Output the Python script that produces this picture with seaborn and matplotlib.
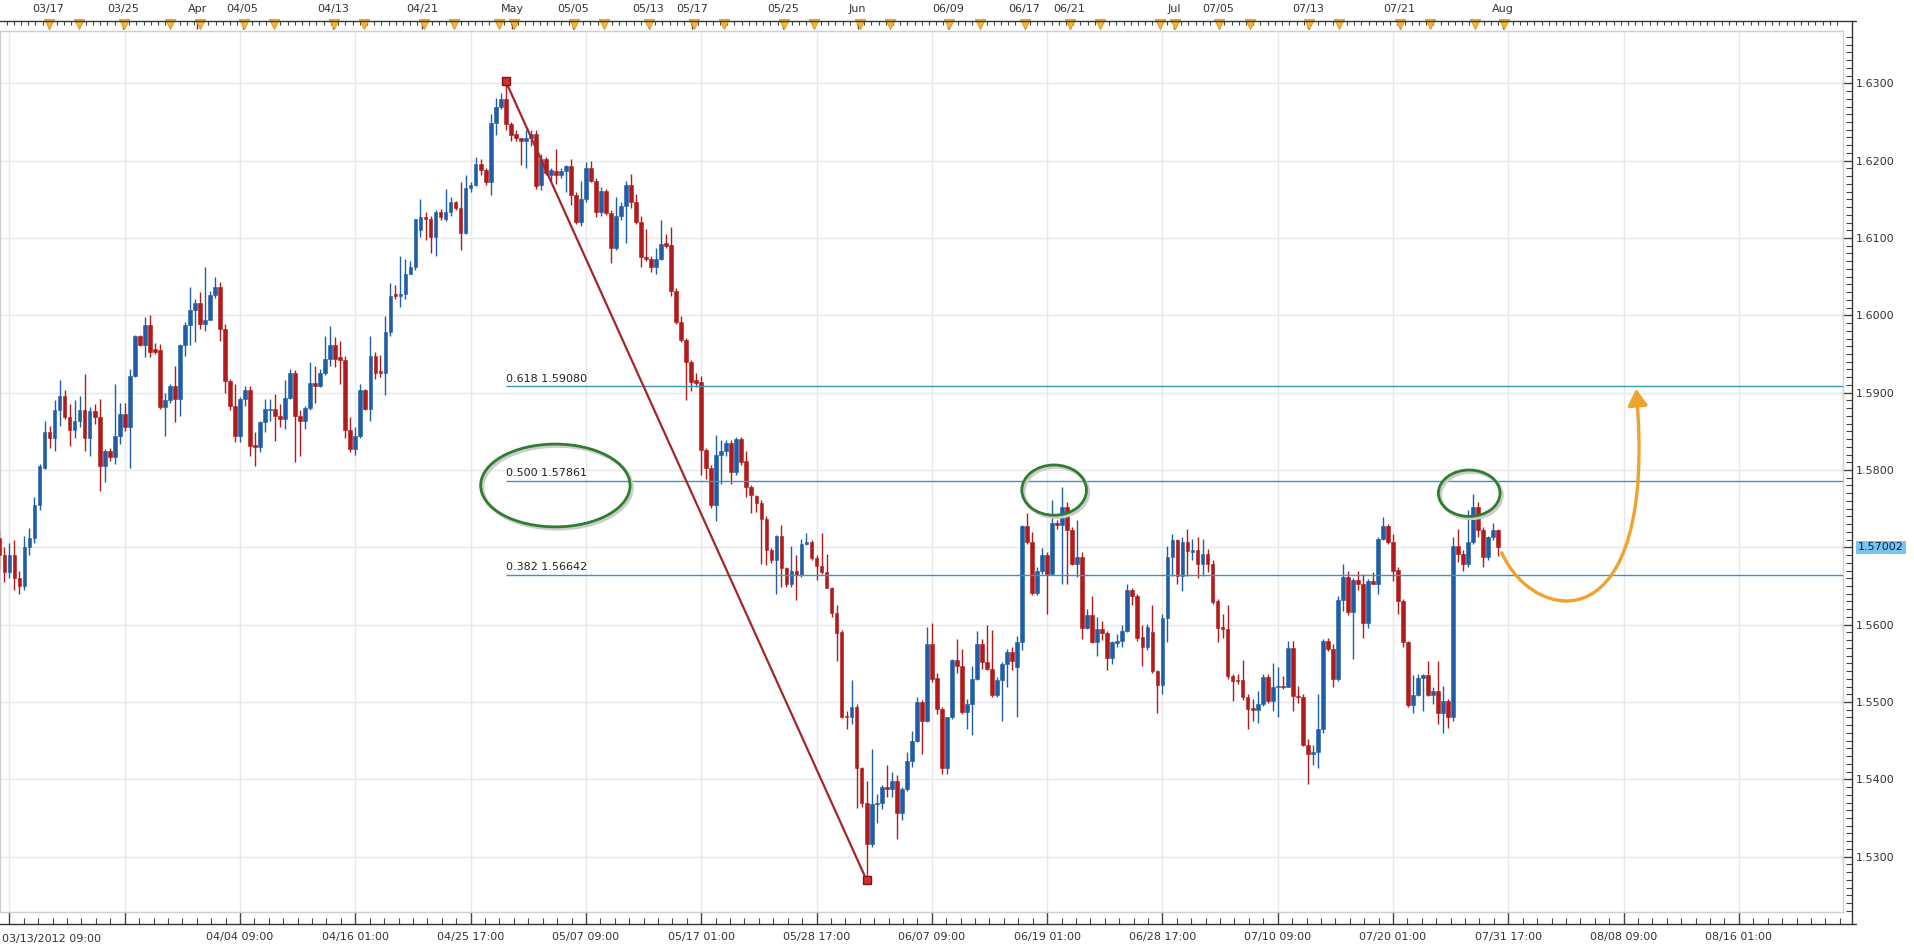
import numpy as np
import pandas as pd
import matplotlib
matplotlib.use("Agg")
import matplotlib.pyplot as plt
import matplotlib.transforms as mtransforms
from matplotlib.patches import Ellipse, FancyArrowPatch
from matplotlib.path import Path
from matplotlib.lines import Line2D
from matplotlib.ticker import FixedLocator, MultipleLocator
import seaborn as sns

sns.set_theme(style="white")
plt.rcParams["font.family"] = ["DejaVu Sans"]

# 8-hour candles, one row of ten bars per line
opens = [
    1.5712, 1.5690, 1.5668, 1.5690, 1.5660, 1.5650, 1.5700, 1.5712, 1.5755, 1.5803,
    1.5849, 1.5841, 1.5877, 1.5896, 1.5869, 1.5852, 1.5864, 1.5878, 1.5841, 1.5876,
    1.5868, 1.5805, 1.5825, 1.5817, 1.5844, 1.5872, 1.5855, 1.5921, 1.5973, 1.5962,
    1.5987, 1.5956, 1.5955, 1.5881, 1.5890, 1.5908, 1.5892, 1.5961, 1.5987, 1.6007,
    1.6016, 1.5989, 1.5994, 1.6026, 1.6037, 1.5982, 1.5915, 1.5883, 1.5844, 1.5892,
    1.5903, 1.5832, 1.5830, 1.5862, 1.5877, 1.5879, 1.5870, 1.5866, 1.5893, 1.5926,
    1.5870, 1.5864, 1.5880, 1.5913, 1.5909, 1.5925, 1.5944, 1.5962, 1.5946, 1.5942,
    1.5852, 1.5827, 1.5844, 1.5903, 1.5879, 1.5947, 1.5928, 1.5926, 1.5978, 1.6027,
    1.6025, 1.6028, 1.6054, 1.6063, 1.6110, 1.6127, 1.6125, 1.6101, 1.6134, 1.6124,
    1.6134, 1.6146, 1.6139, 1.6106, 1.6164, 1.6169, 1.6196, 1.6188, 1.6173, 1.6249,
    1.6270, 1.6280, 1.6248, 1.6234, 1.6229, 1.6226, 1.6229, 1.6234, 1.6168, 1.6202,
    1.6181, 1.6187, 1.6181, 1.6187, 1.6193, 1.6155, 1.6121, 1.6150, 1.6191, 1.6174,
    1.6134, 1.6161, 1.6132, 1.6087, 1.6129, 1.6141, 1.6169, 1.6146, 1.6121, 1.6076,
    1.6073, 1.6063, 1.6073, 1.6093, 1.6091, 1.6031, 1.5992, 1.5968, 1.5939, 1.5916,
    1.5914, 1.5826, 1.5802, 1.5755, 1.5819, 1.5824, 1.5835, 1.5797, 1.5840, 1.5812,
    1.5778, 1.5766, 1.5757, 1.5736, 1.5696, 1.5683, 1.5715, 1.5673, 1.5653, 1.5670,
    1.5664, 1.5704, 1.5707, 1.5686, 1.5676, 1.5668, 1.5648, 1.5615, 1.5591, 1.5482,
    1.5480, 1.5494, 1.5415, 1.5370, 1.5316, 1.5368, 1.5369, 1.5390, 1.5388, 1.5398,
    1.5356, 1.5388, 1.5424, 1.5449, 1.5500, 1.5475, 1.5575, 1.5531, 1.5491, 1.5415,
    1.5480, 1.5554, 1.5547, 1.5487, 1.5497, 1.5530, 1.5575, 1.5552, 1.5543, 1.5509,
    1.5529, 1.5549, 1.5565, 1.5545, 1.5578, 1.5727, 1.5707, 1.5641, 1.5670, 1.5690,
    1.5666, 1.5732, 1.5729, 1.5752, 1.5723, 1.5678, 1.5688, 1.5596, 1.5613, 1.5578,
    1.5595, 1.5589, 1.5557, 1.5576, 1.5579, 1.5592, 1.5645, 1.5637, 1.5584, 1.5571,
    1.5591, 1.5540, 1.5522, 1.5609, 1.5688, 1.5710, 1.5663, 1.5707, 1.5694, 1.5697,
    1.5679, 1.5692, 1.5678, 1.5630, 1.5597, 1.5594, 1.5534, 1.5528, 1.5528, 1.5506,
    1.5492, 1.5490, 1.5498, 1.5532, 1.5501, 1.5520, 1.5521, 1.5519, 1.5570, 1.5508,
    1.5507, 1.5445, 1.5433, 1.5436, 1.5465, 1.5579, 1.5568, 1.5530, 1.5632, 1.5662,
    1.5617, 1.5658, 1.5653, 1.5602, 1.5657, 1.5653, 1.5711, 1.5727, 1.5707, 1.5671,
    1.5631, 1.5577, 1.5496, 1.5509, 1.5531, 1.5535, 1.5509, 1.5514, 1.5486, 1.5501,
    1.5480, 1.5702, 1.5691, 1.5679, 1.5707, 1.5752, 1.5722, 1.5687, 1.5713, 1.5722,
]
highs = [
    1.5722, 1.5700, 1.5705, 1.5710, 1.5670, 1.5715, 1.5725, 1.5765, 1.5808, 1.5864,
    1.5857, 1.5890, 1.5916, 1.5903, 1.5885, 1.5890, 1.5896, 1.5924, 1.5881, 1.5885,
    1.5892, 1.5827, 1.5829, 1.5911, 1.5887, 1.5887, 1.5931, 1.5974, 1.5974, 1.5998,
    1.6001, 1.5964, 1.5963, 1.5900, 1.5911, 1.5935, 1.5963, 1.5991, 1.6037, 1.6021,
    1.6030, 1.6063, 1.6032, 1.6049, 1.6043, 1.5989, 1.5918, 1.5911, 1.5894, 1.5909,
    1.5909, 1.5849, 1.5864, 1.5892, 1.5892, 1.5898, 1.5885, 1.5916, 1.5931, 1.5929,
    1.5877, 1.5883, 1.5939, 1.5935, 1.5931, 1.5973, 1.5986, 1.5972, 1.5967, 1.5948,
    1.5868, 1.5855, 1.5911, 1.5905, 1.5973, 1.5952, 1.5949, 1.5999, 1.6042, 1.6039,
    1.6077, 1.6073, 1.6070, 1.6125, 1.6150, 1.6134, 1.6129, 1.6136, 1.6137, 1.6163,
    1.6153, 1.6148, 1.6172, 1.6181, 1.6172, 1.6205, 1.6202, 1.6191, 1.6260, 1.6281,
    1.6288, 1.63027, 1.6250, 1.6240, 1.6229, 1.6240, 1.6240, 1.6240, 1.6209, 1.6205,
    1.6191, 1.6215, 1.6191, 1.6195, 1.6202, 1.6160, 1.6174, 1.6198, 1.6200, 1.6177,
    1.6166, 1.6163, 1.6136, 1.6153, 1.6146, 1.6174, 1.6183, 1.6157, 1.6129, 1.6111,
    1.6077, 1.6087, 1.6123, 1.6105, 1.6114, 1.6035, 1.5999, 1.5971, 1.5942, 1.5925,
    1.5921, 1.5828, 1.5807, 1.5845, 1.5839, 1.5839, 1.5839, 1.5843, 1.5843, 1.5824,
    1.5781, 1.5768, 1.5761, 1.5740, 1.5699, 1.5716, 1.5729, 1.5675, 1.5702, 1.5690,
    1.5711, 1.5718, 1.5709, 1.5690, 1.5718, 1.5692, 1.5649, 1.5625, 1.5593, 1.5489,
    1.5528, 1.5497, 1.5416, 1.5398, 1.5439, 1.5381, 1.5393, 1.5418, 1.5409, 1.5405,
    1.5390, 1.5435, 1.5463, 1.5506, 1.5502, 1.5597, 1.5602, 1.5537, 1.5493, 1.5481,
    1.5556, 1.5582, 1.5569, 1.5504, 1.5547, 1.5592, 1.5582, 1.5599, 1.5593, 1.5532,
    1.5552, 1.5569, 1.5571, 1.5586, 1.5729, 1.5745, 1.5720, 1.5675, 1.5699, 1.5694,
    1.5761, 1.5735, 1.5778, 1.5759, 1.5726, 1.5735, 1.5694, 1.5620, 1.5637, 1.5610,
    1.5605, 1.5592, 1.5579, 1.5588, 1.5599, 1.5652, 1.5648, 1.5640, 1.5599, 1.5601,
    1.5625, 1.5542, 1.5614, 1.5702, 1.5717, 1.5711, 1.5713, 1.5724, 1.5711, 1.5713,
    1.5711, 1.5698, 1.5683, 1.5633, 1.5614, 1.5625, 1.5536, 1.5536, 1.5554, 1.5510,
    1.5504, 1.5514, 1.5536, 1.5536, 1.5551, 1.5545, 1.5534, 1.5579, 1.5579, 1.5521,
    1.5510, 1.5452, 1.5445, 1.5510, 1.5581, 1.5583, 1.5575, 1.5637, 1.5679, 1.5670,
    1.5661, 1.5669, 1.5666, 1.5659, 1.5668, 1.5713, 1.5739, 1.5730, 1.5717, 1.5674,
    1.5633, 1.5579, 1.5535, 1.5536, 1.5536, 1.5553, 1.5519, 1.5553, 1.5521, 1.5504,
    1.5713, 1.5724, 1.5696, 1.5748, 1.5769, 1.5758, 1.5726, 1.5715, 1.5732, 1.5724,
]
lows = [
    1.5672, 1.5655, 1.5660, 1.5645, 1.5640, 1.5645, 1.5690, 1.5705, 1.5748, 1.5801,
    1.5829, 1.5825, 1.5857, 1.5866, 1.5831, 1.5842, 1.5855, 1.5825, 1.5818, 1.5859,
    1.5773, 1.5785, 1.5812, 1.5808, 1.5833, 1.5851, 1.5802, 1.5920, 1.5960, 1.5946,
    1.5946, 1.5950, 1.5879, 1.5844, 1.5887, 1.5862, 1.5870, 1.5948, 1.5961, 1.5965,
    1.5982, 1.5980, 1.5995, 1.6023, 1.5967, 1.5900, 1.5877, 1.5836, 1.5836, 1.5883,
    1.5818, 1.5805, 1.5823, 1.5849, 1.5864, 1.5838, 1.5855, 1.5853, 1.5892, 1.5810,
    1.5818, 1.5853, 1.5877, 1.5887, 1.5907, 1.5923, 1.5934, 1.5933, 1.5911, 1.5842,
    1.5823, 1.5820, 1.5842, 1.5877, 1.5864, 1.5918, 1.5920, 1.5897, 1.5973, 1.6021,
    1.6011, 1.6021, 1.6053, 1.6058, 1.6101, 1.6098, 1.6080, 1.6077, 1.6123, 1.6122,
    1.6129, 1.6136, 1.6084, 1.6105, 1.6160, 1.6167, 1.6181, 1.6169, 1.6155, 1.6233,
    1.6267, 1.6240, 1.6226, 1.6226, 1.6195, 1.6191, 1.6219, 1.6163, 1.6162, 1.6181,
    1.6174, 1.6170, 1.6177, 1.6160, 1.6143, 1.6118, 1.6115, 1.6146, 1.6172, 1.6127,
    1.6129, 1.6130, 1.6068, 1.6084, 1.6123, 1.6094, 1.6139, 1.6118, 1.6063, 1.6070,
    1.6056, 1.6053, 1.6072, 1.6087, 1.6025, 1.5989, 1.5966, 1.5890, 1.5902, 1.5907,
    1.5793, 1.5789, 1.5751, 1.5734, 1.5782, 1.5818, 1.5782, 1.5793, 1.5807, 1.5765,
    1.5744, 1.5746, 1.5679, 1.5677, 1.5680, 1.5640, 1.5649, 1.5649, 1.5649, 1.5632,
    1.5662, 1.5703, 1.5683, 1.5658, 1.5666, 1.5647, 1.5610, 1.5553, 1.5479, 1.5465,
    1.5472, 1.5363, 1.5364, 1.52696, 1.5312, 1.5344, 1.5362, 1.5377, 1.5377, 1.5323,
    1.5347, 1.5385, 1.5416, 1.5448, 1.5433, 1.5474, 1.5526, 1.5485, 1.5407, 1.5407,
    1.5478, 1.5537, 1.5485, 1.5465, 1.5457, 1.5528, 1.5543, 1.5541, 1.5507, 1.5506,
    1.5476, 1.5519, 1.5541, 1.5480, 1.5567, 1.5704, 1.5639, 1.5638, 1.5666, 1.5614,
    1.5665, 1.5724, 1.5653, 1.5653, 1.5677, 1.5662, 1.5582, 1.5595, 1.5576, 1.5560,
    1.5580, 1.5542, 1.5549, 1.5571, 1.5571, 1.5591, 1.5625, 1.5579, 1.5547, 1.5567,
    1.5538, 1.5486, 1.5511, 1.5577, 1.5663, 1.5653, 1.5643, 1.5663, 1.5683, 1.5661,
    1.5663, 1.5668, 1.5627, 1.5577, 1.5583, 1.5530, 1.5501, 1.5523, 1.5502, 1.5465,
    1.5476, 1.5473, 1.5495, 1.5499, 1.5488, 1.5481, 1.5517, 1.5519, 1.5488, 1.5499,
    1.5443, 1.5394, 1.5419, 1.5415, 1.5460, 1.5566, 1.5519, 1.5527, 1.5618, 1.5612,
    1.5555, 1.5645, 1.5583, 1.5596, 1.5652, 1.5640, 1.5709, 1.5704, 1.5657, 1.5614,
    1.5571, 1.5493, 1.5486, 1.5508, 1.5488, 1.5508, 1.5497, 1.5471, 1.5460, 1.5467,
    1.5476, 1.5681, 1.5669, 1.5674, 1.5704, 1.5713, 1.5674, 1.5683, 1.5709, 1.5689,
]
closes = [
    1.5690, 1.5668, 1.5690, 1.5660, 1.5650, 1.5700, 1.5712, 1.5755, 1.5805, 1.5849,
    1.5841, 1.5877, 1.5896, 1.5869, 1.5852, 1.5864, 1.5878, 1.5841, 1.5876, 1.5868,
    1.5805, 1.5825, 1.5817, 1.5844, 1.5872, 1.5855, 1.5921, 1.5973, 1.5962, 1.5987,
    1.5952, 1.5953, 1.5881, 1.5890, 1.5908, 1.5892, 1.5961, 1.5987, 1.6007, 1.6016,
    1.5989, 1.5994, 1.6026, 1.6037, 1.5982, 1.5915, 1.5883, 1.5844, 1.5892, 1.5903,
    1.5831, 1.5830, 1.5862, 1.5879, 1.5879, 1.5870, 1.5866, 1.5893, 1.5926, 1.5870,
    1.5864, 1.5880, 1.5913, 1.5909, 1.5925, 1.5944, 1.5962, 1.5943, 1.5942, 1.5852,
    1.5827, 1.5844, 1.5903, 1.5879, 1.5947, 1.5926, 1.5926, 1.5978, 1.6025, 1.6025,
    1.6028, 1.6054, 1.6063, 1.6124, 1.6127, 1.6124, 1.6101, 1.6134, 1.6127, 1.6134,
    1.6146, 1.6139, 1.6106, 1.6164, 1.6169, 1.6196, 1.6188, 1.6173, 1.6249, 1.6270,
    1.6280, 1.6248, 1.6233, 1.6229, 1.6226, 1.6229, 1.6234, 1.6167, 1.6202, 1.6184,
    1.6188, 1.6181, 1.6187, 1.6193, 1.6155, 1.6121, 1.6150, 1.6191, 1.6174, 1.6134,
    1.6161, 1.6132, 1.6087, 1.6129, 1.6141, 1.6169, 1.6146, 1.6121, 1.6075, 1.6073,
    1.6063, 1.6073, 1.6092, 1.6090, 1.6031, 1.5992, 1.5968, 1.5939, 1.5914, 1.5912,
    1.5826, 1.5803, 1.5755, 1.5819, 1.5824, 1.5835, 1.5797, 1.5840, 1.5810, 1.5778,
    1.5768, 1.5757, 1.5736, 1.5696, 1.5683, 1.5715, 1.5673, 1.5653, 1.5670, 1.5664,
    1.5704, 1.5707, 1.5686, 1.5676, 1.5668, 1.5648, 1.5615, 1.5589, 1.5480, 1.5480,
    1.5494, 1.5415, 1.5370, 1.5316, 1.5368, 1.5369, 1.5390, 1.5388, 1.5398, 1.5356,
    1.5388, 1.5424, 1.5449, 1.5500, 1.5475, 1.5575, 1.5530, 1.5491, 1.5415, 1.5480,
    1.5554, 1.5547, 1.5487, 1.5497, 1.5530, 1.5575, 1.5552, 1.5543, 1.5509, 1.5529,
    1.5549, 1.5565, 1.5553, 1.5578, 1.5727, 1.5707, 1.5641, 1.5670, 1.5690, 1.5666,
    1.5732, 1.5729, 1.5752, 1.5722, 1.5678, 1.5688, 1.5596, 1.5613, 1.5578, 1.5595,
    1.5589, 1.5557, 1.5577, 1.5579, 1.5592, 1.5645, 1.5637, 1.5583, 1.5571, 1.5597,
    1.5540, 1.5522, 1.5609, 1.5688, 1.5710, 1.5663, 1.5707, 1.5695, 1.5697, 1.5679,
    1.5692, 1.5678, 1.5629, 1.5596, 1.5594, 1.5533, 1.5527, 1.5527, 1.5506, 1.5491,
    1.5490, 1.5498, 1.5532, 1.5501, 1.5520, 1.5521, 1.5519, 1.5570, 1.5508, 1.5506,
    1.5445, 1.5433, 1.5436, 1.5465, 1.5579, 1.5568, 1.5530, 1.5632, 1.5662, 1.5617,
    1.5658, 1.5653, 1.5602, 1.5657, 1.5653, 1.5711, 1.5727, 1.5707, 1.5670, 1.5630,
    1.5577, 1.5496, 1.5509, 1.5531, 1.5535, 1.5509, 1.5514, 1.5486, 1.5501, 1.5480,
    1.5702, 1.5691, 1.5679, 1.5707, 1.5752, 1.5722, 1.5687, 1.5713, 1.5722, 1.5700,
]

# swing used for the retracement
swing_high_bar, swing_high = 101, 1.63027
swing_low_bar, swing_low = 173, 1.52696
fib_ratios = ["0.618", "0.500", "0.382"]
fib_levels = [1.59080, 1.57861, 1.56642]
last_price = 1.57002

# bottom axis (bar index of each label)
bottom_ticks = [2, 25, 48, 71, 94, 117, 140, 163, 186, 209, 232, 255, 278, 301, 324, 347]
bottom_labels = ["", "", "04/04 09:00", "04/16 01:00", "04/25 17:00", "05/07 09:00",
                 "05/17 01:00", "05/28 17:00", "06/07 09:00", "06/19 01:00", "06/28 17:00",
                 "07/10 09:00", "07/20 01:00", "07/31 17:00", "08/08 09:00", "08/16 01:00"]
first_label = "03/13/2012 09:00"

# top date strip
top_ticks = [9.8, 24.7, 39.5, 48.5, 66.6, 84.4, 102.3, 114.5, 129.5, 138.2,
             156.4, 171.2, 189.3, 204.5, 213.5, 234.4, 243.2, 261.1, 279.3, 300.0]
top_labels = ["03/17", "03/25", "Apr", "04/05", "04/13", "04/21", "May", "05/05", "05/13", "05/17",
              "05/25", "Jun", "06/09", "06/17", "06/21", "Jul", "07/05", "07/13", "07/21", "Aug"]
event_bars = [9.9, 15.9, 24.9, 34.0, 40.0, 48.8, 54.8, 66.8, 72.7, 84.7, 90.7, 99.7, 102.7,
              114.6, 120.6, 129.6, 138.6, 144.5, 156.5, 162.5, 171.7, 177.7, 189.4, 195.6,
              204.6, 213.6, 219.6, 231.5, 234.5, 243.3, 249.5, 261.3, 267.2, 279.4, 285.4,
              294.4, 300.1]

# highlighted zones: (bar centre, price centre, width in bars, height in price)
zone_x = [110.9, 210.4, 293.2]
zone_y = [1.5780, 1.5774, 1.5770]
zone_w = [29.8, 12.9, 12.3]
zone_h = [0.0107, 0.0065, 0.0060]

# projected path drawn by hand
proj_x = [299.7, 306.0, 331.0, 326.5]
proj_y = [1.5693, 1.5600, 1.5570, 1.5905]

BLUE = "#1f5ea6"
RED = "#b21b1b"
FIB = "#3f93b8"
GRID = "#e8e8e8"
TXT = "#333333"

df = pd.DataFrame({"open": opens, "high": highs, "low": lows, "close": closes})
df["bar"] = np.arange(len(df))
df["color"] = np.where(df["close"] >= df["open"], BLUE, RED)
df["body_lo"] = df[["open", "close"]].min(axis=1)
df["body_h"] = (df["close"] - df["open"]).abs().clip(lower=0.00012)

W, H = 1914, 950
fig = plt.figure(figsize=(W / 100, H / 100), dpi=100, facecolor="white")
plot_top, plot_bot, plot_right = 31, 912, 1843
frame_top = 21
ax = fig.add_axes([0, 1 - plot_bot / H, plot_right / W, (plot_bot - plot_top) / H])
ax.set_facecolor("white")

x_lo = 0.12
ax.set_xlim(x_lo, x_lo + plot_right / 5.013)
y_top = 1.63 + (83.3 - plot_top) / 7734
y_bot = 1.63 - (plot_bot - 83.3) / 7734
ax.set_ylim(y_bot, y_top)

ax.set_xticks(bottom_ticks)
ax.set_yticks(np.arange(1.53, 1.6301, 0.01))
ax.grid(True, color=GRID, lw=1)
ax.tick_params(length=0, labelbottom=False, labelleft=False)
for s in ax.spines.values():
    s.set_color("#cfcfcf")
    s.set_linewidth(1)

# candles
ax.vlines(df["bar"], df["low"], df["high"], colors=df["color"], lw=1.0, zorder=3)
ax.bar(df["bar"], df["body_h"], bottom=df["body_lo"], width=0.74,
       color=df["color"], edgecolor=df["color"], lw=0.4, zorder=4)

# fibonacci levels
x_end = ax.get_xlim()[1]
for r, lv in zip(fib_ratios, fib_levels):
    ax.hlines(lv, swing_high_bar, x_end, color=FIB, lw=1, zorder=5)
    ax.text(swing_high_bar, lv + 0.00035, f"{r} {lv:.5f}", fontsize=8,
            color="#222222", va="bottom", ha="left", zorder=6)

# swing line with end squares
sns.lineplot(x=[swing_high_bar, swing_low_bar], y=[swing_high, swing_low], ax=ax,
             color="#a3262a", lw=1.6, zorder=6, legend=False)
ax.plot([swing_high_bar, swing_low_bar], [swing_high, swing_low], ls="none", marker="s",
        ms=6, mfc="#d62b30", mec="#7a1518", mew=1, zorder=7)

# green ellipses with a soft shadow
shadow = mtransforms.offset_copy(ax.transData, fig=fig, x=2, y=-2, units="dots")
for cx, cy, w, h in zip(zone_x, zone_y, zone_w, zone_h):
    ax.add_patch(Ellipse((cx, cy), w, h, fill=False, ec="#cccccc", lw=2.5,
                         transform=shadow, zorder=7))
    ax.add_patch(Ellipse((cx, cy), w, h, fill=False, ec="#2f7d2f", lw=2, zorder=8))

# orange projection arrow
path = Path(list(zip(proj_x, proj_y)), [Path.MOVETO, Path.CURVE4, Path.CURVE4, Path.CURVE4])
arrow = FancyArrowPatch(path=path, arrowstyle="-|>,head_length=0.5,head_width=0.3",
                        mutation_scale=20, color="#f0a22e", lw=2.4, zorder=9)
ax.add_patch(arrow)

# bottom axis
sec_b = ax.secondary_xaxis(-(924 - plot_bot) / (plot_bot - plot_top))
sec_b.set_xticks(bottom_ticks, labels=bottom_labels)
sec_b.xaxis.set_minor_locator(FixedLocator(np.arange(2, 368, 23 / 8)))
sec_b.tick_params(which="major", direction="in", length=9, width=1, color="#444444",
                  labelsize=8, labelcolor=TXT, pad=6)
sec_b.tick_params(which="minor", direction="in", length=4, width=0.8, color="#444444")
sec_b.spines[:].set_visible(False)
ax.text(0.001, -0.0305, first_label, transform=ax.transAxes, fontsize=8, color=TXT,
        ha="left", va="center")

# top axis
sec_t = ax.secondary_xaxis(1 + (plot_top - frame_top) / (plot_bot - plot_top))
sec_t.set_xticks(top_ticks, labels=top_labels)
sec_t.xaxis.set_minor_locator(FixedLocator(np.arange(0, 368, 23 / 16)))
sec_t.tick_params(which="major", direction="in", length=6, width=1, color="#444444",
                  labelsize=8, labelcolor=TXT, pad=5)
sec_t.tick_params(which="minor", direction="in", length=3, width=0.8, color="#444444")
sec_t.spines[:].set_visible(False)
ax.scatter(event_bars, [1.0085] * len(event_bars), transform=ax.get_xaxis_transform(),
           marker="v", s=55, color="#f2b43a", edgecolor="#d89a20", lw=0.6,
           clip_on=False, zorder=10)

# right price axis
sec_r = ax.secondary_yaxis(1 + (1852 - plot_right) / plot_right)
price_ticks = np.round(np.arange(1.53, 1.6301, 0.01), 2)
sec_r.set_yticks(price_ticks, labels=["" if abs(v - 1.57) < 1e-9 else f"{v:.4f}" for v in price_ticks])
sec_r.yaxis.set_minor_locator(MultipleLocator(0.001))
sec_r.tick_params(which="major", direction="in", length=8, width=1, color="#444444",
                  labelsize=8, labelcolor=TXT, pad=3)
sec_r.tick_params(which="minor", direction="in", length=4, width=0.8, color="#444444")
sec_r.spines[:].set_visible(False)
lbl_tf = mtransforms.blended_transform_factory(ax.transAxes, ax.transData)
ax.text(1858 / plot_right, last_price, f"{last_price:.5f}", transform=lbl_tf,
        fontsize=8, color="#0d2540", ha="left", va="center", clip_on=False, zorder=11,
        bbox=dict(boxstyle="square,pad=0.15", fc="#78c4ef", ec="none"))

# outer frame lines
def fx(px):
    return px / W

def fy(py):
    return 1 - py / H

for xs, ys in [((0, 1856), (frame_top, frame_top)), ((1852, 1852), (frame_top, 924)),
               ((0, 1856), (924, 924))]:
    fig.add_artist(Line2D([fx(v) for v in xs], [fy(v) for v in ys], color="#333333", lw=1))

fig.savefig("out.png", dpi=100, facecolor="white")
